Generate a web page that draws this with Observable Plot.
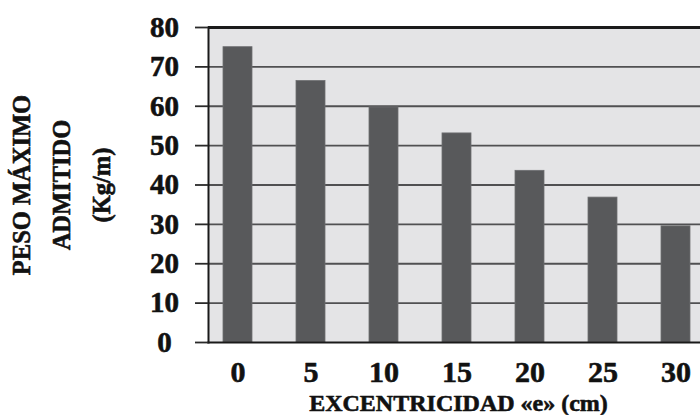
<!DOCTYPE html>
<html>
<head>
<meta charset="utf-8">
<script src="https://cdn.jsdelivr.net/npm/d3@7"></script>
<script src="https://cdn.jsdelivr.net/npm/@observablehq/plot@0.6"></script>
<style>
  html, body { margin: 0; padding: 0; background: #fff; }
  #chart svg { display: block; }
  #chart svg text { stroke: #111; stroke-width: 0.6px; stroke-linejoin: round; }
</style>
</head>
<body>
<div id="chart"></div>
<script>
// Data
const excentricidad = ["0", "5", "10", "15", "20", "25", "30"];
const pesoMaximo = [75, 66.4, 59.7, 53.1, 43.6, 36.8, 29.5];
const yTicks = [0, 10, 20, 30, 40, 50, 60, 70, 80];
const xTitle = "EXCENTRICIDAD «e» (cm)";
const yTitleLines = ["PESO MÁXIMO", "ADMITIDO", "(Kg/m)"];
const yTitleOffsets = [-186, -146, -106];

const data = excentricidad.map((e, i) => ({e, v: pesoMaximo[i]}));

const titleMarks = yTitleLines.map((t, i) =>
  Plot.text([t], {frameAnchor: "left", dx: yTitleOffsets[i], rotate: -90, textAnchor: "middle", lineAnchor: "middle", fontSize: 24.5, fill: "#111"})
);

const chart = Plot.plot({
  width: 700,
  height: 415,
  marginTop: 27,
  marginBottom: 73,
  marginLeft: 208,
  marginRight: 0,
  style: {fontFamily: "'Liberation Serif', 'Times New Roman', serif", fontWeight: "bold", background: "#fff", color: "#111"},
  x: {type: "band", domain: excentricidad, range: [208, 705], paddingInner: 0.604, paddingOuter: 0.19, align: 0.5},
  y: {domain: [0, 80]},
  marks: [
    Plot.frame({fill: "#e4e4e6", stroke: null}),
    Plot.ruleY(yTicks.slice(1, -1), {stroke: "#505052", strokeWidth: 1.8}),
    Plot.barY(data, {x: "e", y: "v", fill: "#58595b", stroke: "#6e6f71", strokeWidth: 0.8}),
    Plot.ruleY([80], {stroke: "#1a1a1a", strokeWidth: 3}),
    Plot.frame({anchor: "left", stroke: "#1a1a1a", strokeWidth: 2}),
    Plot.frame({anchor: "bottom", stroke: "#1a1a1a", strokeWidth: 2}),
    Plot.axisY({ticks: yTicks, tickSize: 13, tickPadding: 31, textAnchor: "middle", fontSize: 29, stroke: "#2a2a2a", strokeWidth: 1.8, fill: "#111", label: null}),
    Plot.axisX({tickSize: 0, tickPadding: 18.5, fontSize: 30, fill: "#111", label: null}),
    Plot.text([xTitle], {frameAnchor: "bottom", dy: 68, dx: 4, lineAnchor: "bottom", fontSize: 24, fill: "#111"}),
    ...titleMarks
  ]
});
document.getElementById("chart").appendChild(chart);
</script>
</body>
</html>
